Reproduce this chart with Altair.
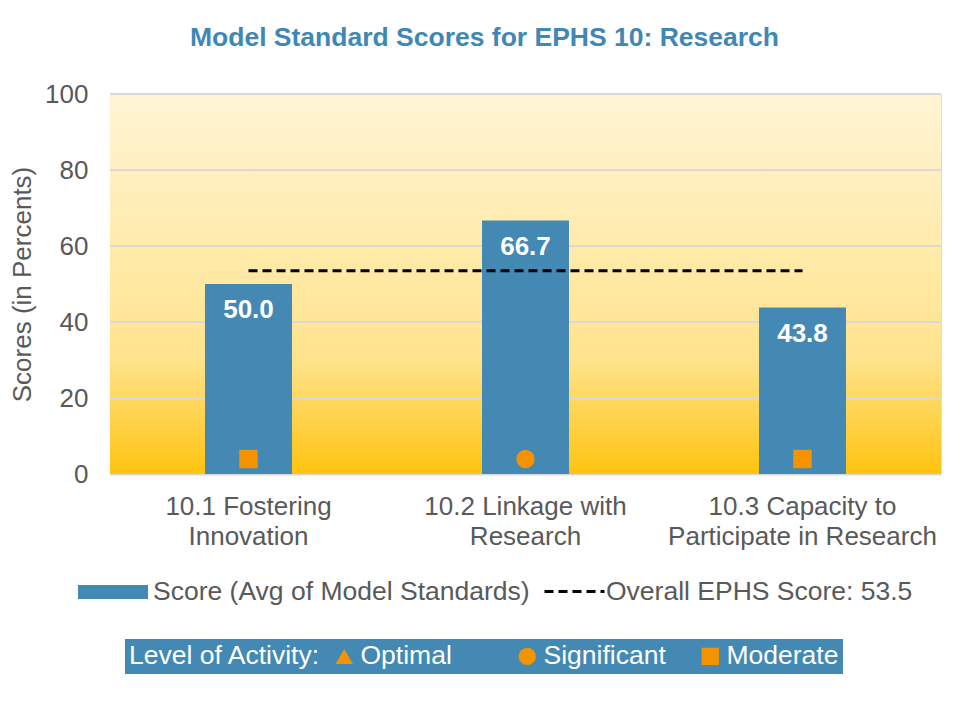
import altair as alt
import pandas as pd

categories = ["10.1 Fostering\nInnovation", "10.2 Linkage with\nResearch", "10.3 Capacity to\nParticipate in Research"]
scores = [50.0, 66.7, 43.8]
levels = ["Moderate", "Significant", "Moderate"]
overall = 53.5
y_ticks = [0, 20, 40, 60, 80, 100]
level_domain = ["Optimal", "Significant", "Moderate"]
level_shapes = ["triangle-up", "circle", "square"]
series_name = "Score (Avg of Model Standards)"
overall_name = "Overall EPHS Score: 53.5"

BLUE = "#4389B4"
ORANGE = "#F59200"
GREY = "#595959"
FONT = "Liberation Sans"
FS = 26

df = pd.DataFrame({
    "cat": categories,
    "score": scores,
    "level": levels,
    "overall": [overall] * 3,
    "series": [series_name] * 3,
    "oname": [overall_name] * 3,
})
df["label"] = df["score"].map(lambda v: f"{v:.1f}")
grid_df = pd.DataFrame({"v": [t for t in y_ticks if t > 0]})
bg_df = pd.DataFrame({"a": [0]})

W, H = 831, 380

xenc = alt.X("cat:N", sort=categories, title=None,
             scale=alt.Scale(paddingInner=0.686, paddingOuter=0.343),
             axis=alt.Axis(labelExpr="split(datum.label, '\\n')", labelAngle=0,
                           labelFontSize=FS, labelColor=GREY, labelFont=FONT,
                           labelLineHeight=30, labelPadding=19, ticks=False,
                           domain=True, domainColor="#D9D9D9", domainWidth=2,
                           grid=False, labelBaseline="top", labelLimit=500))
yscale = alt.Scale(domain=[0, 100], nice=False)

background = alt.Chart(bg_df).mark_rect(
    color=alt.LinearGradient(gradient="linear", x1=0, y1=0, x2=0, y2=1,
                             stops=[alt.GradientStop(offset=0, color="#FFF5D6"),
                                    alt.GradientStop(offset=0.7, color="#FFE38C"),
                                    alt.GradientStop(offset=1, color="#FFC30F")])
).encode(x=alt.value(0), x2=alt.value(W), y=alt.value(0), y2=alt.value(H))

grid = alt.Chart(grid_df).mark_rule(color="#D9D9D9", strokeWidth=2).encode(
    y=alt.Y("v:Q", scale=yscale), x=alt.value(0), x2=alt.value(W)
)

bars = alt.Chart(df).mark_bar().encode(
    x=xenc,
    y=alt.Y("score:Q", scale=yscale, title="Scores (in Percents)",
            axis=alt.Axis(values=y_ticks, labelFontSize=FS,
                          labelColor=GREY, labelFont=FONT, labelPadding=22,
                          ticks=False, domain=False, grid=False,
                          titleFontSize=FS, titleColor=GREY, titleFont=FONT,
                          titleFontWeight="normal", titlePadding=9)),
    color=alt.Color("series:N", scale=alt.Scale(range=[BLUE]),
                    legend=alt.Legend(title=None, orient="none", legendX=-32, legendY=463,
                                      symbolType="M-1,-0.2H1V0.2H-1Z", symbolSize=4900,
                                      symbolStrokeWidth=0, labelFontSize=26.5,
                                      labelColor=GREY, labelFont=FONT, labelOffset=5,
                                      labelLimit=500)),
)

line = alt.Chart(df).mark_line(color="black", strokeWidth=3).encode(
    x=alt.X("cat:N", sort=categories),
    y=alt.Y("overall:Q", scale=yscale),
    strokeDash=alt.StrokeDash("oname:N", scale=alt.Scale(range=[[9, 5]]),
                              legend=alt.Legend(title=None, orient="none", legendX=433, legendY=466,
                                                symbolType="stroke", symbolSize=3600,
                                                symbolStrokeWidth=3, symbolStrokeColor="black",
                                                labelFontSize=26.5, labelColor=GREY,
                                                labelFont=FONT, labelOffset=0,
                                                labelLimit=500)),
)

labels = alt.Chart(df).mark_text(color="white", fontSize=FS, fontWeight="bold",
                                 font=FONT, dy=26).encode(
    x=alt.X("cat:N", sort=categories),
    y=alt.Y("score:Q", scale=yscale),
    text="label:N",
)

markers = alt.Chart(df).mark_point(filled=True, opacity=1, color=ORANGE, size=340).encode(
    x=alt.X("cat:N", sort=categories),
    y=alt.value(H - 15),
    shape=alt.Shape("level:N", scale=alt.Scale(domain=level_domain, range=level_shapes),
                    legend=alt.Legend(title="Level of Activity:", orient="none",
                                      legendX=15, legendY=545, direction="horizontal",
                                      titleOrient="left", fillColor=BLUE,
                                      titleColor="white", labelColor="white",
                                      titleFontSize=26.5, labelFontSize=26.5,
                                      titleFont=FONT, labelFont=FONT,
                                      titleFontWeight="normal", symbolSize=300,
                                      symbolFillColor=ORANGE, symbolStrokeColor=ORANGE,
                                      gridAlign="all", columnPadding=31, padding=4,
                                      labelOffset=3, titlePadding=10,
                                      labelLimit=500, titleLimit=500)),
)

chart = alt.layer(background, grid, bars, line, labels, markers).resolve_legend(
    color="independent", strokeDash="independent", shape="independent"
).properties(
    width=W, height=H,
    title=alt.Title("Model Standard Scores for EPHS 10: Research", fontSize=26.5,
                    font=FONT, fontWeight="bold", color="#3F88B5", anchor="middle",
                    dx=-41, offset=30),
    autosize=alt.AutoSizeParams(type="none"),
    padding={"left": 102, "top": 86, "right": 17, "bottom": 220},
).configure_view(stroke=None).configure(background="white")

chart.save("out.html", embed_options={"renderer": "svg", "actions": False})
